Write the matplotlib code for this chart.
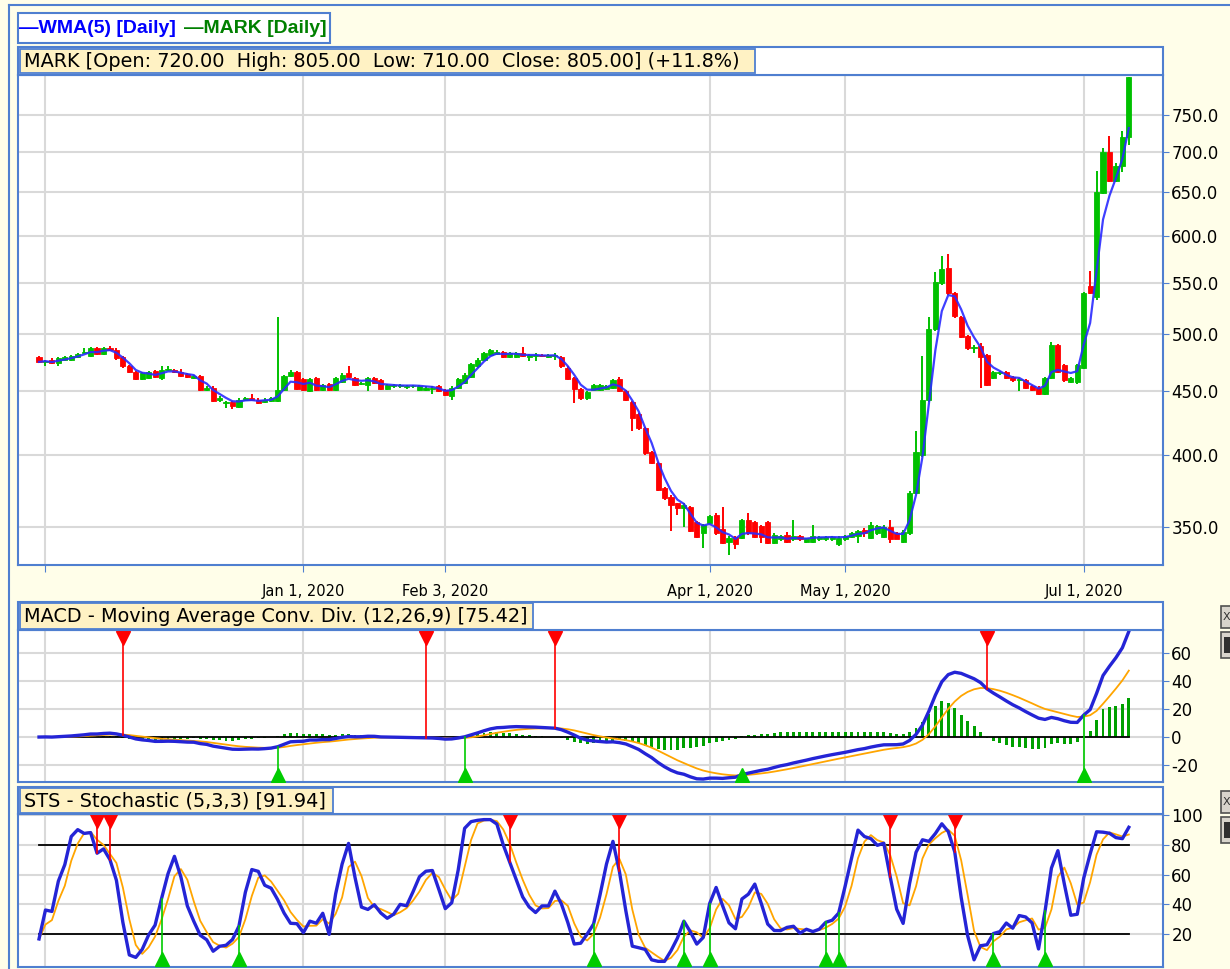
import numpy as np
import pandas as pd
import matplotlib
matplotlib.use("Agg")
import matplotlib.pyplot as plt
from matplotlib.patches import Rectangle
from matplotlib.ticker import FixedLocator, NullLocator, FixedFormatter

plt.rcParams["axes.unicode_minus"] = False

# daily OHLC (bar index 0 .. 169)
opens = [479, 475, 477, 474, 477, 477, 479, 483, 480, 487, 482, 487.5, 486, 479, 471, 466, 460, 461, 467, 461,
         468, 468, 466, 464.5, 461, 463, 451, 453, 443, 440, 441, 437, 443, 444.5, 443, 441, 442, 442, 451, 463,
         466, 460, 450, 461, 451, 456, 451, 458, 465, 461, 456, 455, 461, 459, 452, 454, 454, 453.5, 454, 451,
         451, 451.5, 454, 451, 446, 453, 457, 462, 471, 477, 481, 482, 484, 479, 479, 483, 479, 480, 481, 479,
         480, 479, 470, 461, 452, 444, 451, 451, 452, 453, 460, 450, 441, 431, 420, 402, 394, 376, 370, 365.7,
         362.6, 363, 353, 346, 352.6, 358, 348.7, 340.4, 343.6, 343, 354.5, 353, 350.6, 353, 340, 342, 345, 342, 344, 340.5,
         340.5, 342, 342, 342, 339, 342, 343.6, 344, 348, 343, 346, 343.6, 350, 346, 340.5, 346, 373, 400, 443, 505,
         550, 565, 540, 516, 498, 487, 489, 481, 461, 465, 466, 462, 459, 459, 454, 453, 448, 461, 490, 472,
         458, 458, 470, 547, 536, 649, 700, 664, 683, 720]
highs = [480, 477, 478, 479, 480, 481, 483, 487, 488, 488, 488, 489, 487, 480, 472, 467, 466, 467, 468, 471,
         471, 469, 469, 465, 464, 464, 454, 454, 446, 442, 442, 444, 445, 448, 444, 444, 445, 516, 464, 468,
         467, 461, 461, 462, 456, 457, 462, 465, 471, 462, 458, 462, 462, 460, 456, 456, 456, 455, 455, 455,
         454, 454, 455, 452, 454, 461, 465, 474, 478, 484, 486.5, 485.5, 485, 483.5, 483.5, 488, 482, 483, 482, 482,
         483, 480, 471, 462, 453, 450, 456, 456, 455, 460, 462, 451, 442, 432, 421, 403, 395, 377, 371, 366,
         365.7, 364, 354, 352, 358, 359, 363, 344, 344, 355, 359, 354, 351, 354, 346, 345, 347, 354.5, 345, 343,
         351, 344, 344, 344, 344, 345, 347, 348, 349, 353, 351.5, 351, 354.5, 347, 348, 374, 418, 480, 516, 561,
         578, 580, 541, 517, 499, 490, 492, 482, 467, 467, 467, 463, 461, 460, 455, 454, 462, 493, 491, 473,
         462, 473, 541, 562, 676, 705, 722, 686, 728, 805]
lows = [474, 471, 473, 471, 476, 476, 478, 482, 479, 481, 481, 485, 477, 470, 465, 459, 459, 460, 461, 459,
        467, 465, 462, 461, 460, 450, 450, 441, 441, 436, 435, 436, 442, 442, 439, 440, 441, 441, 450, 462,
        451, 450, 449, 450, 450, 450, 450, 457, 461, 454, 455, 450, 456, 451, 451, 453, 453, 452, 453, 450,
        450, 448, 449, 446, 443, 452, 456, 461, 470, 476, 480, 481, 478, 478, 478, 479, 476, 476, 479, 478,
        477, 470, 459, 440, 443, 443, 450, 450, 451, 452, 449, 442, 418, 419, 400, 393, 374, 368, 347.5, 358,
        350, 347, 343, 336.5, 352, 345, 339, 332, 335.8, 342, 345, 343, 340, 339, 339, 341, 340, 341, 341, 340,
        340, 341, 341, 341, 338, 341, 343, 340, 343.6, 342, 345, 343, 340, 342, 340, 345, 372, 398, 441, 503,
        548, 538, 515, 496, 486, 483, 453, 454, 460, 464, 460, 458, 450, 452, 450, 447, 447, 460, 465, 458,
        457, 456, 469, 539, 533, 648, 662, 662, 675, 710]
closes = [475, 476, 474, 478, 479, 480, 482, 484, 487, 482, 487, 486, 478, 471, 466, 460, 465, 466, 462, 468,
          469, 466, 463, 462, 463, 451, 453, 442, 444.5, 441, 438, 443, 444.5, 443, 440, 443, 444, 451, 463, 466.5,
          452, 451, 460, 451, 455, 451, 461, 464, 462, 455, 457, 461, 457, 452, 455, 455, 455, 454.5, 454.5, 454,
          453, 453, 450, 447, 453, 460, 464, 473, 477, 483, 485.5, 483.5, 479, 482.5, 482.5, 480, 481, 481, 480, 481,
          481, 471, 460, 452, 444, 449, 455, 455, 454, 459, 450, 443, 428, 420, 401, 394, 375, 369, 364.5, 362.5,
          364.5, 347.5, 343.6, 351, 357, 346, 339.8, 343, 339, 354.5, 346, 343.6, 343.6, 339.7, 345, 344, 340.5, 344, 342, 342.6,
          344, 343.5, 343.5, 343.5, 343, 344, 346, 347.5, 346, 351, 350.6, 350, 342.4, 342.4, 347, 373, 402, 443, 505, 551,
          564, 540, 517, 497, 487, 488.5, 479, 455, 466, 466, 461, 459, 460, 453, 451, 448, 461, 490, 466, 459,
          461, 472, 540, 540, 650, 700, 664, 683, 720, 805]

date_idx = [1, 41, 63, 104, 125, 162]
date_labels = ["", "Jan 1, 2020", "Feb 3, 2020", "Apr 1, 2020", "May 1, 2020", "Jul 1, 2020"]
price_ticks = [350, 400, 450, 500, 550, 600, 650, 700, 750]
macd_ticks = [-20, 0, 20, 40, 60]
sts_ticks = [20, 40, 60, 80, 100]

# signal markers (bar index)
macd_sell = [13, 60, 80, 147]
macd_buy = [37, 66, 109, 162]
sts_sell = [9, 11, 73, 90, 132, 142]
sts_buy = [19, 31, 86, 100, 104, 122, 124, 148, 156]

o = np.array(opens, float)
h = np.array(highs, float)
l = np.array(lows, float)
c = np.array(closes, float)
n = len(c)
idx = np.arange(n)

# indicators
def wma(v, p):
    out = np.empty(len(v))
    for i in range(len(v)):
        win = v[max(0, i - p + 1):i + 1]
        w = np.arange(1, len(win) + 1)
        out[i] = (win * w).sum() / w.sum()
    return out

wma5 = wma(c, 5)
cs = pd.Series(c)
macd = cs.ewm(span=12, adjust=False).mean() - cs.ewm(span=26, adjust=False).mean()
signal = macd.ewm(span=9, adjust=False).mean()
hist = macd - signal
ll = pd.Series(l).rolling(5, min_periods=1).min()
hh = pd.Series(h).rolling(5, min_periods=1).max()
rawk = 100 * (cs - ll) / (hh - ll)
k = rawk.rolling(3, min_periods=1).mean()
d = k.rolling(3, min_periods=1).mean()

BG = "#FFFEE9"
BLUE = "#4F7FD0"
GRID = "#D9D9D9"
W, H = 1230, 969

fig = plt.figure(figsize=(12.3, 9.69), dpi=100, facecolor=BG)

def box(x0, y0, x1, y1):
    return [x0 / W, 1 - y1 / H, (x1 - x0) / W, (y1 - y0) / H]

ax1 = fig.add_axes(box(18, 75, 1163, 565))
ax2 = fig.add_axes(box(18, 630, 1163, 782))
ax3 = fig.add_axes(box(18, 814, 1163, 967))

for ax in (ax1, ax2, ax3):
    ax.set_facecolor("white")
    for s in ax.spines.values():
        s.set_color(BLUE)
        s.set_linewidth(1.5)
    ax.set_xlim(-3.26, 174.3)
    ax.xaxis.set_major_locator(FixedLocator(date_idx))
    ax.yaxis.tick_right()
    ax.tick_params(axis="y", which="major", direction="out", length=4, color=BLUE,
                   labelsize=12, pad=2)
    ax.tick_params(axis="x", length=0, labelbottom=False)
    ax.grid(True, color=GRID, lw=1.5, zorder=0)
    ax.set_axisbelow(True)

# price panel
up = c >= o
col = np.where(up, "#00C000", "#FF0000")
ax1.vlines(idx, l, h, colors=col, lw=1.4, zorder=2)
ax1.bar(idx, np.abs(c - o), bottom=np.minimum(o, c), width=0.8, color=col,
        edgecolor=col, lw=0.6, zorder=3)
ax1.plot(idx, wma5, color="#2A2AFF", lw=1.6, alpha=0.9, zorder=4)
ax1.set_yscale("log")
ax1.set_ylim(326.2, 807.6)
ax1.yaxis.set_major_locator(FixedLocator(price_ticks))
ax1.yaxis.set_major_formatter(FixedFormatter([f"{p:.1f}" for p in price_ticks]))
ax1.yaxis.set_minor_locator(NullLocator())
ax1.xaxis.set_major_formatter(FixedFormatter(date_labels))
ax1.tick_params(axis="x", length=5, color=BLUE, direction="out", labelbottom=True,
                labelsize=10.5, pad=9)

# MACD panel
ax2.set_ylim(-32.1, 76.4)
ax2.yaxis.set_major_locator(FixedLocator(macd_ticks))
ax2.bar(idx, hist, width=0.45, color="#00A000", zorder=2)
ax2.plot([0, n - 1], [0, 0], color="black", lw=1.3, zorder=3)
ax2.plot(idx, signal, color="#FFA500", lw=1.3, zorder=4)
ax2.plot(idx, macd, color="#2424D6", lw=2.4, zorder=5)
for i in macd_sell:
    ax2.plot([i, i], [70.5, macd[i]], color="#FF0000", lw=1.2, zorder=6)
    ax2.plot(i, 71, marker="v", color="#FF0000", ms=10, zorder=7)
for i in macd_buy:
    ax2.plot([i, i], [-27, macd[i]], color="#00CC00", lw=1.2, zorder=6)
    ax2.plot(i, -27, marker="^", color="#00CC00", ms=10, zorder=7)

# stochastic panel
ax3.set_ylim(-2.2, 100.7)
ax3.yaxis.set_major_locator(FixedLocator(sts_ticks))
ax3.plot([0, n - 1], [20, 20], color="black", lw=1.3, zorder=3)
ax3.plot([0, n - 1], [80, 80], color="black", lw=1.3, zorder=3)
ax3.plot(idx, d, color="#FFA500", lw=1.3, zorder=4)
ax3.plot(idx, k, color="#2424D6", lw=2.4, zorder=5)
for i in sts_sell:
    ax3.plot([i, i], [96, k[i]], color="#FF0000", lw=1.2, zorder=6)
    ax3.plot(i, 96, marker="v", color="#FF0000", ms=10, zorder=7)
for i in sts_buy:
    ax3.plot([i, i], [3, k[i]], color="#00CC00", lw=1.2, zorder=6)
    ax3.plot(i, 3, marker="^", color="#00CC00", ms=10, zorder=7)

# overlay in pixel coordinates for frames, headers and title boxes
ov = fig.add_axes([0, 0, 1, 1], zorder=10)
ov.set_xlim(0, W)
ov.set_ylim(H, 0)
ov.axis("off")
ov.patch.set_alpha(0)

ov.plot([9, W], [5, 5], color=BLUE, lw=1.5)
ov.plot([9, 9], [5, H], color=BLUE, lw=1.5)

ov.add_patch(Rectangle((18, 13), 312, 30, fc="white", ec=BLUE, lw=1.5))
ov.text(19, 28.5, "\u2014WMA(5) [Daily]", color="#0000FF", fontsize=14, fontweight="bold",
        family="Liberation Sans", va="center")
ov.text(184, 28.5, "\u2014MARK [Daily]", color="#008000", fontsize=14, fontweight="bold",
        family="Liberation Sans", va="center")

for y0, y1 in [(47, 75), (602, 630), (787, 814)]:
    ov.add_patch(Rectangle((18, y0), 1145, y1 - y0, fc="white", ec=BLUE, lw=1.5))

TITLE_BG = "#FFF2C4"
titles = [
    ((20, 49, 755, 73), "MARK [Open: 720.00  High: 805.00  Low: 710.00  Close: 805.00] (+11.8%)"),
    ((20, 603, 533, 629), "MACD - Moving Average Conv. Div. (12,26,9) [75.42]"),
    ((20, 788, 333, 813), "STS - Stochastic (5,3,3) [91.94]"),
]
for (x0, y0, x1, y1), txt in titles:
    ov.add_patch(Rectangle((x0, y0), x1 - x0, y1 - y0, fc=TITLE_BG, ec=BLUE, lw=1.3))
    ov.text(x0 + 4, (y0 + y1) / 2 + 0.5, txt, fontsize=13.9, va="center", ha="left", color="black")

# small panel buttons at the right edge (cut off)
for yb in (606, 791):
    ov.add_patch(Rectangle((1221, yb), 14, 22, fc="#D8D4CC", ec="#505050", lw=1.2))
    ov.text(1222.5, yb + 11, "X", fontsize=8, va="center", ha="left", color="#303030")
    ov.add_patch(Rectangle((1221, yb + 26), 14, 26, fc="#D8D4CC", ec="#505050", lw=1.2))
    ov.add_patch(Rectangle((1224, yb + 31), 8, 16, fc="#303030", ec="none"))

fig.savefig("out.png", dpi=100, facecolor=BG)
